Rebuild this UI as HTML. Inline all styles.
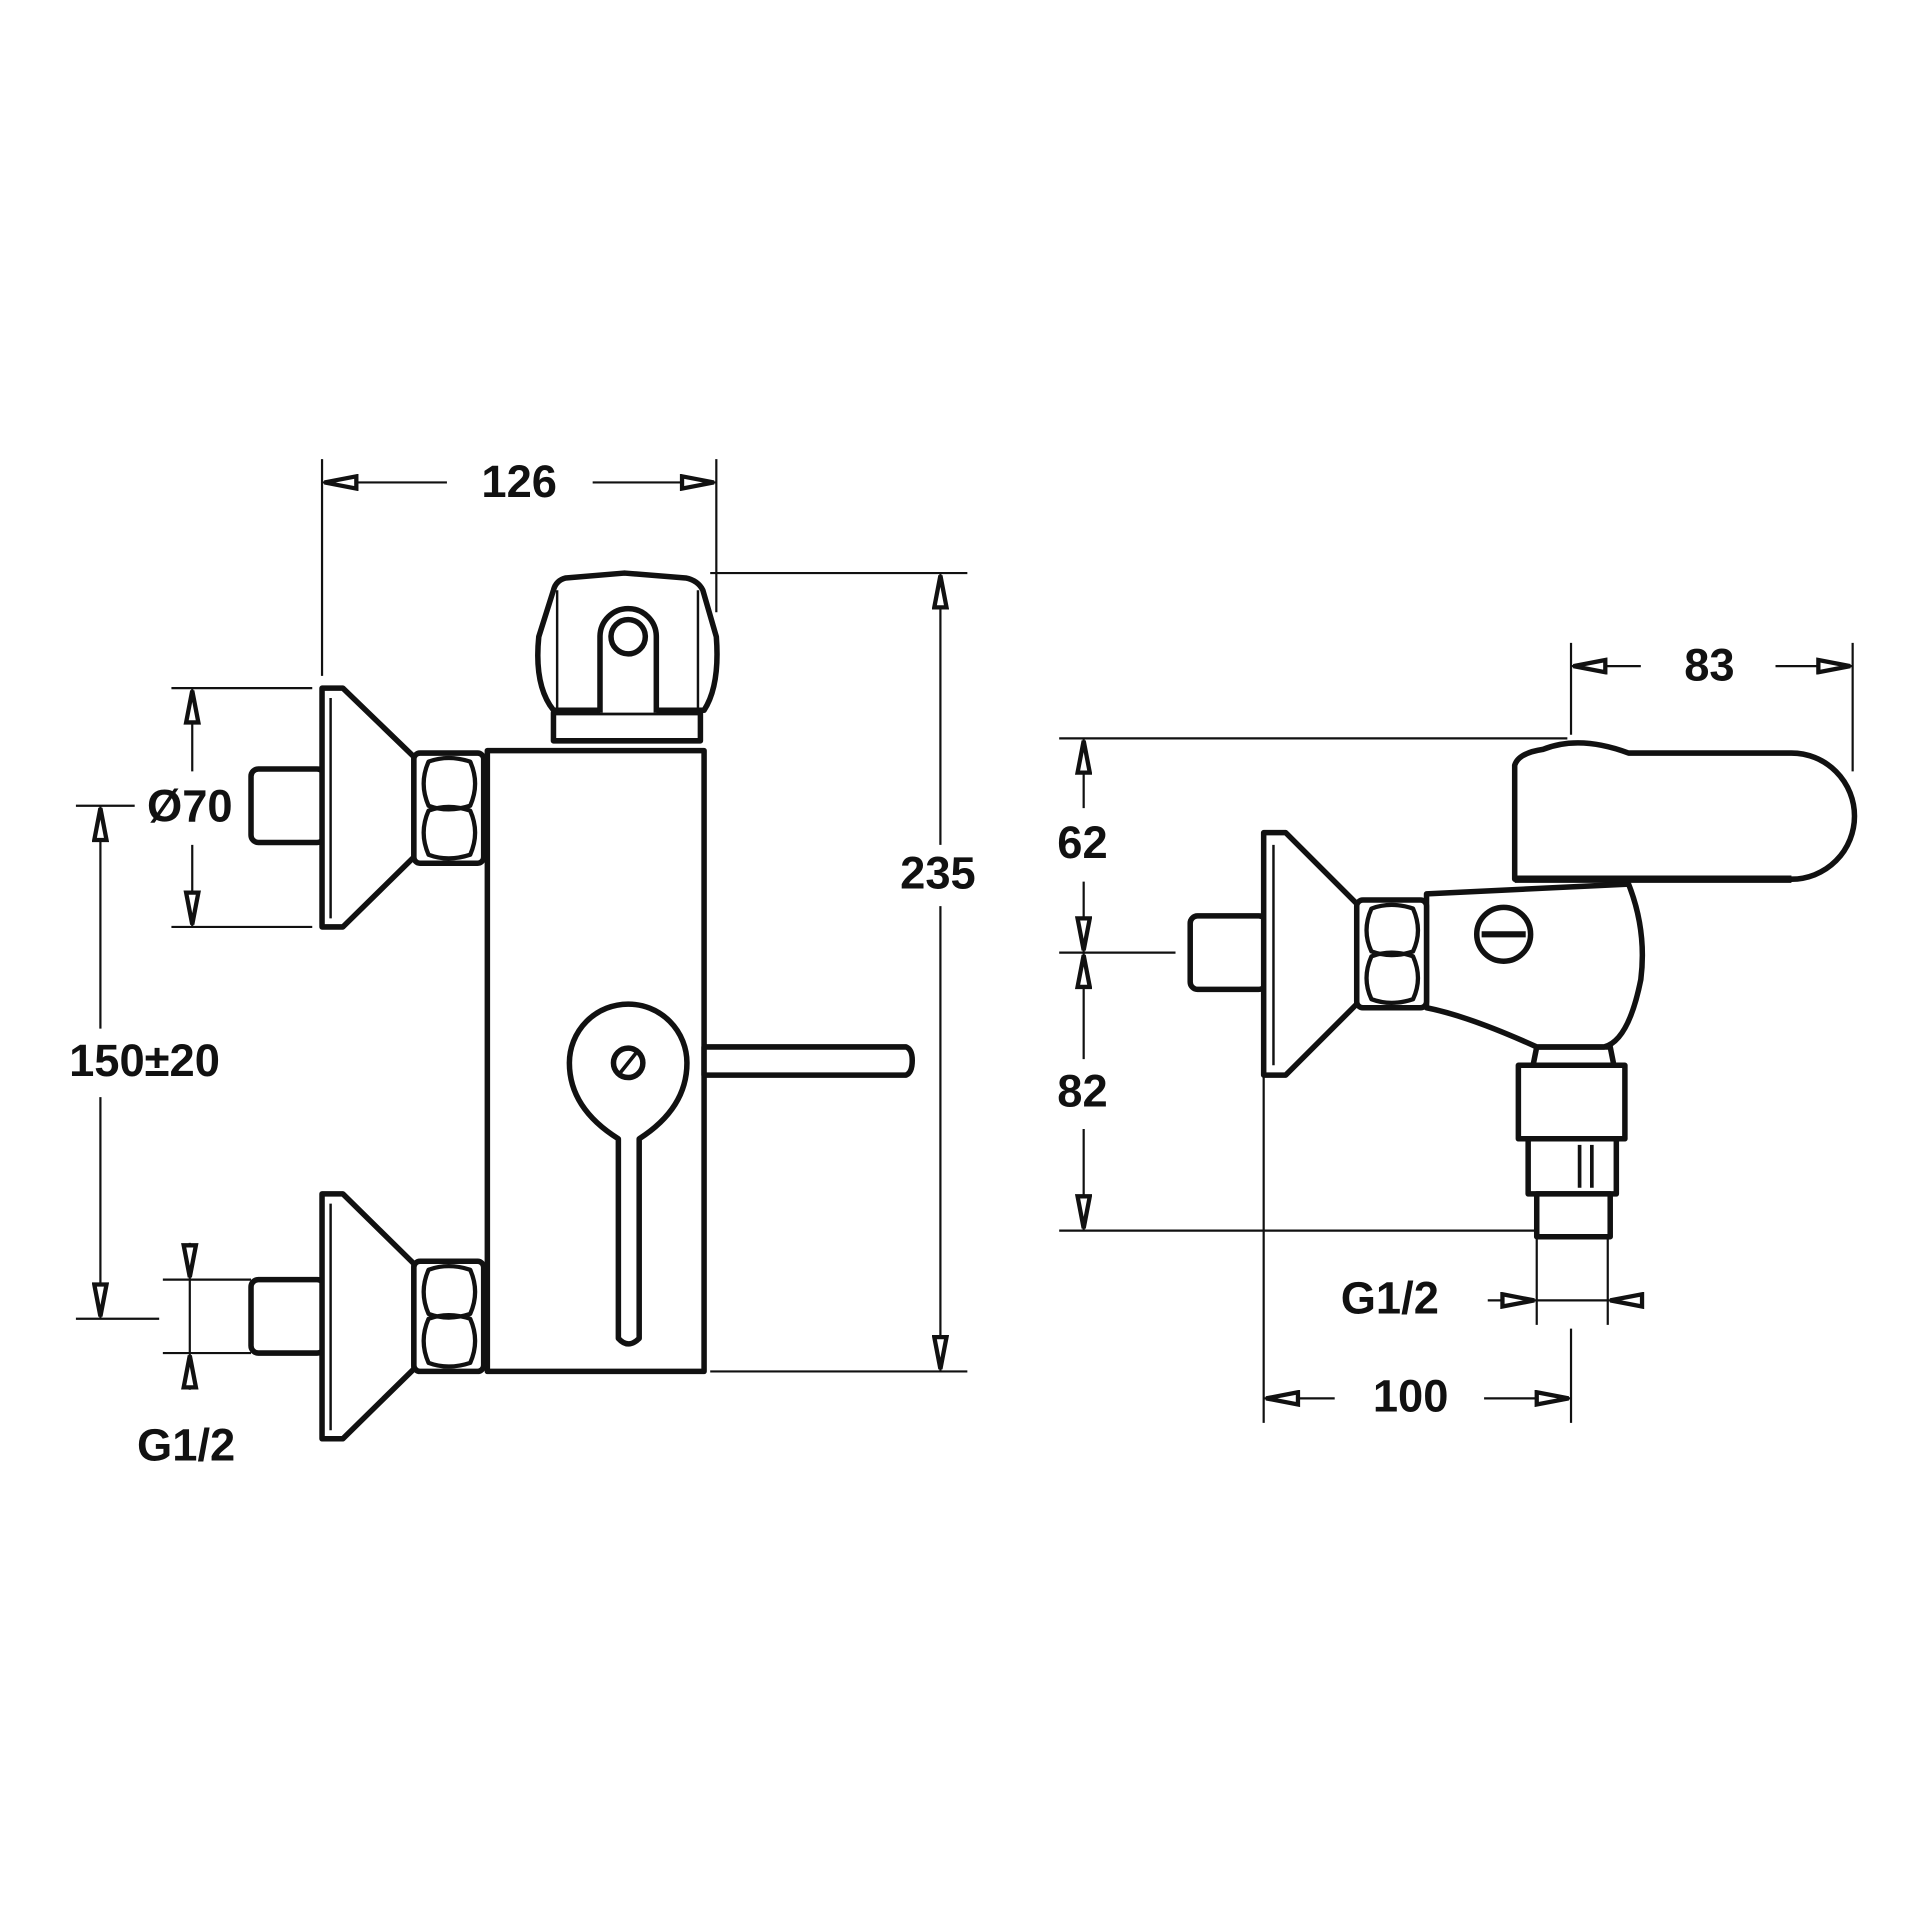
<!DOCTYPE html>
<html><head><meta charset="utf-8"><style>
html,body{margin:0;padding:0;background:#fff;}
svg{display:block;}
text{font-family:"Liberation Sans",sans-serif;font-size:37px;font-weight:bold;fill:#111;text-anchor:middle;dominant-baseline:middle;}
</style></head><body>
<svg width="1920" height="1920" viewBox="0 0 1568 1568" xmlns="http://www.w3.org/2000/svg">
<defs>
<marker id="a" viewBox="0 0 30 14" refX="30" refY="7" markerWidth="30" markerHeight="14" markerUnits="userSpaceOnUse" orient="auto">
<path d="M2,2 L28,7 L2,12 Z" fill="#fff" stroke="#111" stroke-width="3.5"/></marker>
<marker id="b" viewBox="0 0 30 14" refX="0" refY="7" markerWidth="30" markerHeight="14" markerUnits="userSpaceOnUse" orient="auto">
<path d="M28,2 L2,7 L28,12 Z" fill="#fff" stroke="#111" stroke-width="3.5"/></marker>
</defs>
<g fill="none" stroke="#111" stroke-width="1.8">
<line x1="263" y1="375" x2="263" y2="552"/><line x1="585" y1="375" x2="585" y2="500"/>
<line x1="263" y1="394" x2="365" y2="394" marker-start="url(#b)"/>
<line x1="484" y1="394" x2="585" y2="394" marker-end="url(#a)"/>
<line x1="580" y1="468" x2="790" y2="468"/><line x1="580" y1="1120" x2="790" y2="1120"/>
<line x1="768" y1="468" x2="768" y2="690" marker-start="url(#b)"/>
<line x1="768" y1="740" x2="768" y2="1120" marker-end="url(#a)"/>
<line x1="140" y1="562" x2="255" y2="562"/><line x1="140" y1="757" x2="255" y2="757"/>
<line x1="157" y1="562" x2="157" y2="630" marker-start="url(#b)"/>
<line x1="157" y1="690" x2="157" y2="757" marker-end="url(#a)"/>
<line x1="62" y1="658" x2="110" y2="658"/><line x1="62" y1="1077" x2="130" y2="1077"/>
<line x1="82" y1="658" x2="82" y2="840" marker-start="url(#b)"/>
<line x1="82" y1="896" x2="82" y2="1077" marker-end="url(#a)"/>
<line x1="133" y1="1045" x2="205" y2="1045"/><line x1="133" y1="1105" x2="205" y2="1105"/>
<line x1="155" y1="1015" x2="155" y2="1045" marker-end="url(#a)"/>
<line x1="155" y1="1135" x2="155" y2="1105" marker-end="url(#a)"/>
<line x1="155" y1="1045" x2="155" y2="1105"/>
<line x1="1283" y1="525" x2="1283" y2="600"/><line x1="1513" y1="525" x2="1513" y2="630"/>
<line x1="1283" y1="544" x2="1340" y2="544" marker-start="url(#b)"/>
<line x1="1450" y1="544" x2="1513" y2="544" marker-end="url(#a)"/>
<line x1="865" y1="603" x2="1280" y2="603"/><line x1="865" y1="778" x2="960" y2="778"/><line x1="865" y1="1005" x2="1255" y2="1005"/>
<line x1="885" y1="603" x2="885" y2="660" marker-start="url(#b)"/>
<line x1="885" y1="720" x2="885" y2="778" marker-end="url(#a)"/>
<line x1="885" y1="778" x2="885" y2="865" marker-start="url(#b)"/>
<line x1="885" y1="922" x2="885" y2="1005" marker-end="url(#a)"/>
<line x1="1255" y1="1010" x2="1255" y2="1082"/><line x1="1313" y1="1010" x2="1313" y2="1082"/>
<line x1="1215" y1="1062" x2="1255" y2="1062" marker-end="url(#a)"/>
<line x1="1340" y1="1062" x2="1313" y2="1062" marker-end="url(#a)"/>
<line x1="1255" y1="1062" x2="1313" y2="1062"/>
<line x1="1032" y1="880" x2="1032" y2="1162"/><line x1="1283" y1="1085" x2="1283" y2="1162"/>
<line x1="1032" y1="1142" x2="1090" y2="1142" marker-start="url(#b)"/>
<line x1="1212" y1="1142" x2="1283" y2="1142" marker-end="url(#a)"/>
</g>

<g fill="#fff" stroke="#111" stroke-width="4.5" stroke-linejoin="round">
<path d="M452,582 L572,582 L572,605 L452,605 Z"/>
<path d="M452,580 Q436,560 440,520 L452,482 Q454,474 462,472 L510,468 L560,472 Q570,474 574,482 L585,520 Q588,560 575,580 Z"/>
<line x1="455" y1="482" x2="455" y2="580" stroke-width="2"/><line x1="570" y1="482" x2="570" y2="580" stroke-width="2"/>
<path d="M490,582 L490,520 A23,23 0 0 1 536,520 L536,582"/>
<circle cx="513" cy="520" r="14"/>
<rect x="398" y="613" width="177" height="507"/>
<rect x="205" y="628" width="60" height="60" rx="6"/>
<path d="M263,562 L280,562 L338,618 L338,700 L280,757 L263,757 Z"/>
<line x1="270" y1="570" x2="270" y2="750" stroke-width="2"/>
<rect x="338" y="615" width="57" height="90" rx="5"/>
<path d="M350,622 Q366,616 384,622 Q392,640 384,658 Q366,664 350,658 Q342,640 350,622 Z M350,662 Q366,656 384,662 Q392,680 384,698 Q366,704 350,698 Q342,680 350,662 Z" stroke-width="3.5"/>
<rect x="205" y="1045" width="60" height="60" rx="6"/>
<path d="M263,975 L280,975 L338,1032 L338,1118 L280,1175 L263,1175 Z"/>
<line x1="270" y1="983" x2="270" y2="1168" stroke-width="2"/>
<rect x="338" y="1030" width="57" height="90" rx="5"/>
<path d="M350,1037 Q366,1031 384,1037 Q392,1055 384,1073 Q366,1079 350,1073 Q342,1055 350,1037 Z M350,1077 Q366,1071 384,1077 Q392,1095 384,1113 Q366,1119 350,1113 Q342,1095 350,1077 Z" stroke-width="3.5"/>
<path d="M575,855 L740,855 Q745,857 745,866 Q745,876 740,878 L575,878 Z"/>
<path d="M505,1093 L505,930 Q465,905 465,868 A48,48 0 0 1 561,868 Q561,905 522,930 L522,1093 Q513,1102 505,1093 Z"/>
<circle cx="513" cy="868" r="12"/><line x1="505" y1="878" x2="521" y2="858" stroke-width="3"/>

<path d="M1255,855 L1315,855 L1318,870 L1252,870 Z"/>
<rect x="1240" y="870" width="87" height="60"/>
<rect x="1248" y="930" width="72" height="45"/>
<line x1="1290" y1="935" x2="1290" y2="970" stroke-width="3"/><line x1="1300" y1="935" x2="1300" y2="970" stroke-width="3"/>
<rect x="1255" y="975" width="60" height="35"/>
<path d="M1165,730 L1330,722 Q1345,760 1340,800 Q1330,850 1310,855 L1255,855 Q1200,830 1165,823 Z"/>
<circle cx="1228" cy="763" r="22"/><line x1="1210" y1="763" x2="1246" y2="763" stroke-width="5"/>
<path d="M1237,718 L1237,625 Q1240,615 1260,612 Q1290,600 1330,615 L1463,615 A51,51 0 0 1 1463,718 Z"/>
<line x1="1237" y1="718" x2="1463" y2="718" stroke-width="6"/>
<rect x="972" y="748" width="62" height="60" rx="6"/>
<path d="M1032,680 L1050,680 L1108,738 L1108,820 L1050,878 L1032,878 Z"/>
<line x1="1040" y1="690" x2="1040" y2="870" stroke-width="2"/>
<rect x="1108" y="735" width="57" height="88" rx="5"/>
<path d="M1120,742 Q1136,736 1154,742 Q1162,760 1154,777 Q1136,783 1120,777 Q1112,760 1120,742 Z M1120,781 Q1136,775 1154,781 Q1162,799 1154,816 Q1136,822 1120,816 Q1112,799 1120,781 Z" stroke-width="3.5"/>
</g>

<text x="424" y="396">126</text>
<text x="766" y="716">235</text>
<text x="155" y="661">Ø70</text>
<text x="118" y="869">150±20</text>
<text x="152" y="1183">G1/2</text>
<text x="1396" y="546">83</text>
<text x="884" y="691">62</text>
<text x="884" y="894">82</text>
<text x="1135" y="1063">G1/2</text>
<text x="1152" y="1143">100</text>
</svg>
</body></html>
